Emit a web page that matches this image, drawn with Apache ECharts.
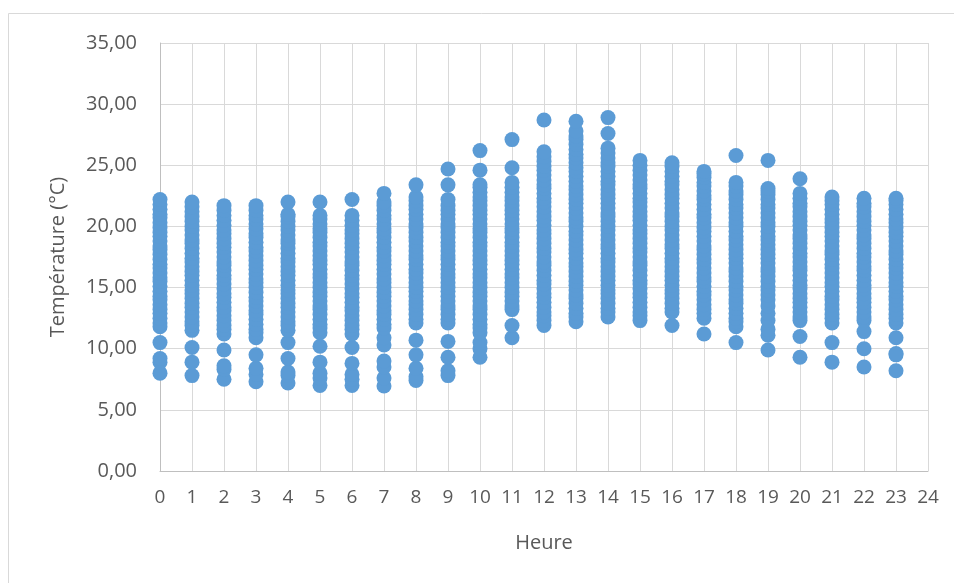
<!DOCTYPE html>
<html>
<head>
<meta charset="utf-8">
<script src="https://cdn.jsdelivr.net/npm/echarts@6/dist/echarts.min.js"></script>
<style>html,body{margin:0;padding:0;background:#fff}#c{width:954px;height:583px}</style>
</head>
<body>
<div id="c"></div>
<script>
const xTicks = [0, 24, 1];
const yTicks = [0, 35, 5];
const h0 = [8.0, 8.9, 9.2, 10.5, 11.8, 12.1, 12.5, 12.9, 13.2, 13.6, 14.0, 14.3, 14.7, 15.1, 15.5, 15.8, 16.2, 16.6, 16.9, 17.3, 17.7, 18.1, 18.4, 18.8, 19.2, 19.5, 19.9, 20.3, 20.7, 21.0, 21.4, 21.8, 22.2];
const h1 = [7.8, 8.9, 10.1, 11.5, 11.9, 12.2, 12.6, 13.0, 13.4, 13.7, 14.1, 14.5, 14.8, 15.2, 15.6, 16.0, 16.3, 16.7, 17.1, 17.4, 17.8, 18.2, 18.6, 18.9, 19.3, 19.7, 20.0, 20.4, 20.8, 21.2, 21.6, 22.0];
const h2 = [7.5, 8.3, 8.6, 9.9, 11.2, 11.6, 11.9, 12.3, 12.7, 13.1, 13.4, 13.8, 14.2, 14.5, 14.9, 15.3, 15.7, 16.0, 16.4, 16.8, 17.1, 17.5, 17.9, 18.3, 18.6, 19.0, 19.4, 19.7, 20.1, 20.5, 20.9, 21.3, 21.7];
const h3 = [7.3, 7.9, 8.4, 9.5, 10.9, 11.3, 11.6, 12.0, 12.4, 12.8, 13.1, 13.5, 13.9, 14.2, 14.6, 15.0, 15.4, 15.7, 16.1, 16.5, 16.8, 17.2, 17.6, 18.0, 18.3, 18.7, 19.1, 19.4, 19.8, 20.2, 20.6, 20.9, 21.3, 21.7];
const h4 = [7.2, 7.8, 8.1, 9.2, 10.5, 11.5, 11.9, 12.2, 12.6, 13.0, 13.4, 13.7, 14.1, 14.5, 14.8, 15.2, 15.6, 16.0, 16.3, 16.7, 17.1, 17.4, 17.8, 18.2, 18.6, 18.9, 19.3, 19.7, 20.0, 20.4, 20.8, 21.0, 22.0];
const h5 = [7.0, 7.6, 8.0, 8.9, 10.2, 11.3, 11.7, 12.0, 12.4, 12.8, 13.2, 13.5, 13.9, 14.3, 14.6, 15.0, 15.4, 15.8, 16.1, 16.5, 16.9, 17.2, 17.6, 18.0, 18.4, 18.7, 19.1, 19.5, 19.8, 20.2, 20.6, 20.9, 22.0];
const h6 = [7.0, 7.5, 7.9, 8.8, 10.1, 11.2, 11.6, 11.9, 12.3, 12.7, 13.1, 13.4, 13.8, 14.2, 14.5, 14.9, 15.3, 15.7, 16.0, 16.4, 16.8, 17.1, 17.5, 17.9, 18.3, 18.6, 19.0, 19.4, 19.7, 20.1, 20.5, 20.9, 22.2];
const h7 = [6.95, 7.6, 8.5, 9.0, 10.3, 10.9, 11.7, 12.0, 12.4, 12.8, 13.1, 13.5, 13.9, 14.3, 14.6, 15.0, 15.4, 15.7, 16.1, 16.5, 16.9, 17.2, 17.6, 18.0, 18.3, 18.7, 19.1, 19.5, 19.8, 20.2, 20.6, 20.9, 21.3, 21.7, 22.0, 22.7];
const h8 = [7.4, 7.7, 8.4, 9.5, 10.7, 12.1, 12.4, 12.8, 13.2, 13.6, 13.9, 14.3, 14.7, 15.0, 15.4, 15.8, 16.2, 16.5, 16.9, 17.3, 17.6, 18.0, 18.4, 18.8, 19.1, 19.5, 19.9, 20.2, 20.6, 21.0, 21.4, 21.7, 22.1, 22.4, 23.4];
const h9 = [7.8, 8.2, 9.3, 10.6, 12.1, 12.4, 12.8, 13.2, 13.5, 13.9, 14.3, 14.7, 15.0, 15.4, 15.8, 16.1, 16.5, 16.9, 17.3, 17.6, 18.0, 18.4, 18.7, 19.1, 19.5, 19.9, 20.2, 20.6, 21.0, 21.3, 21.7, 22.2, 23.4, 24.7];
const h10 = [9.3, 10.0, 10.5, 11.3, 11.7, 12.0, 12.4, 12.8, 13.2, 13.5, 13.9, 14.3, 14.6, 15.0, 15.4, 15.8, 16.1, 16.5, 16.9, 17.2, 17.6, 18.0, 18.4, 18.7, 19.1, 19.5, 19.8, 20.2, 20.6, 21.0, 21.3, 21.7, 22.1, 22.4, 22.8, 23.2, 23.4, 24.6, 26.2];
const h11 = [10.9, 11.9, 13.2, 13.5, 13.9, 14.3, 14.6, 15.0, 15.4, 15.8, 16.1, 16.5, 16.9, 17.2, 17.6, 18.0, 18.4, 18.7, 19.1, 19.5, 19.8, 20.2, 20.6, 21.0, 21.3, 21.7, 22.1, 22.4, 22.8, 23.2, 23.6, 24.8, 27.1];
const h12 = [11.9, 12.3, 12.7, 13.0, 13.4, 13.8, 14.2, 14.5, 14.9, 15.3, 15.6, 16.0, 16.4, 16.8, 17.1, 17.5, 17.9, 18.2, 18.6, 19.0, 19.4, 19.7, 20.1, 20.5, 20.8, 21.2, 21.6, 22.0, 22.3, 22.7, 23.1, 23.4, 23.8, 24.2, 24.6, 24.9, 25.3, 25.7, 26.1, 28.7];
const h13 = [12.2, 12.6, 12.9, 13.3, 13.7, 14.1, 14.4, 14.8, 15.2, 15.5, 15.9, 16.3, 16.7, 17.0, 17.4, 17.8, 18.1, 18.5, 18.9, 19.3, 19.6, 20.0, 20.4, 20.7, 21.1, 21.5, 21.9, 22.2, 22.6, 23.0, 23.3, 23.7, 24.1, 24.5, 24.8, 25.2, 25.6, 25.9, 26.3, 26.7, 27.1, 27.4, 27.8, 28.6];
const h14 = [12.6, 13.0, 13.3, 13.7, 14.1, 14.5, 14.8, 15.2, 15.6, 15.9, 16.3, 16.7, 17.1, 17.4, 17.8, 18.2, 18.5, 18.9, 19.3, 19.7, 20.0, 20.4, 20.8, 21.1, 21.5, 21.9, 22.3, 22.6, 23.0, 23.4, 23.7, 24.1, 24.5, 24.9, 25.2, 25.6, 26.0, 26.4, 27.6, 28.9];
const h15 = [12.3, 12.7, 13.0, 13.4, 13.8, 14.2, 14.5, 14.9, 15.3, 15.6, 16.0, 16.4, 16.8, 17.1, 17.5, 17.9, 18.2, 18.6, 19.0, 19.4, 19.7, 20.1, 20.5, 20.8, 21.2, 21.6, 22.0, 22.3, 22.7, 23.1, 23.4, 23.8, 24.2, 24.6, 25.0, 25.4];
const h16 = [11.9, 13.0, 13.3, 13.7, 14.1, 14.5, 14.8, 15.2, 15.6, 15.9, 16.3, 16.7, 17.1, 17.4, 17.8, 18.2, 18.5, 18.9, 19.3, 19.7, 20.0, 20.4, 20.8, 21.1, 21.5, 21.9, 22.3, 22.6, 23.0, 23.4, 23.7, 24.1, 24.5, 24.9, 25.2];
const h17 = [11.2, 12.5, 12.9, 13.2, 13.6, 14.0, 14.4, 14.7, 15.1, 15.5, 15.8, 16.2, 16.6, 17.0, 17.3, 17.7, 18.1, 18.4, 18.8, 19.2, 19.6, 19.9, 20.3, 20.7, 21.0, 21.4, 21.8, 22.2, 22.5, 22.9, 23.3, 23.6, 24.0, 24.3, 24.5];
const h18 = [10.5, 11.8, 12.2, 12.5, 12.9, 13.3, 13.7, 14.0, 14.4, 14.8, 15.1, 15.5, 15.9, 16.3, 16.6, 17.0, 17.4, 17.7, 18.1, 18.5, 18.9, 19.2, 19.6, 20.0, 20.3, 20.7, 21.1, 21.5, 21.8, 22.2, 22.6, 22.9, 23.3, 23.6, 25.8];
const h19 = [9.9, 11.1, 11.6, 12.3, 12.9, 13.5, 14.0, 14.4, 14.8, 15.1, 15.5, 15.9, 16.3, 16.6, 17.0, 17.4, 17.7, 18.1, 18.5, 18.9, 19.2, 19.6, 20.0, 20.3, 20.7, 21.1, 21.5, 21.8, 22.2, 22.6, 22.9, 23.1, 25.4];
const h20 = [9.3, 11.0, 12.3, 12.6, 13.0, 13.4, 13.8, 14.1, 14.5, 14.9, 15.2, 15.6, 16.0, 16.4, 16.7, 17.1, 17.5, 17.8, 18.2, 18.6, 19.0, 19.3, 19.7, 20.1, 20.4, 20.8, 21.2, 21.6, 21.9, 22.3, 22.7, 23.9];
const h21 = [8.9, 10.5, 12.1, 12.5, 12.8, 13.2, 13.6, 14.0, 14.3, 14.7, 15.1, 15.4, 15.8, 16.2, 16.6, 16.9, 17.3, 17.7, 18.0, 18.4, 18.8, 19.2, 19.5, 19.9, 20.3, 20.6, 21.0, 21.4, 21.8, 22.1, 22.4];
const h22 = [8.5, 10.0, 11.4, 12.3, 12.6, 13.0, 13.4, 13.8, 14.1, 14.5, 14.9, 15.2, 15.6, 16.0, 16.4, 16.7, 17.1, 17.5, 17.8, 18.2, 18.6, 19.0, 19.3, 19.7, 20.1, 20.4, 20.8, 21.2, 21.6, 21.9, 22.3];
const h23 = [8.2, 9.5, 9.6, 10.9, 12.1, 12.5, 12.8, 13.2, 13.6, 14.0, 14.3, 14.7, 15.1, 15.4, 15.8, 16.2, 16.6, 16.9, 17.3, 17.7, 18.0, 18.4, 18.8, 19.2, 19.5, 19.9, 20.3, 20.6, 21.0, 21.4, 21.8, 22.1, 22.3];
const hourly = [h0,h1,h2,h3,h4,h5,h6,h7,h8,h9,h10,h11,h12,h13,h14,h15,h16,h17,h18,h19,h20,h21,h22,h23];

const points = [];
hourly.forEach((arr, hr) => arr.forEach(v => points.push([hr, v])));

const font = '"Open Sans", "Liberation Sans", sans-serif';
const chart = echarts.init(document.getElementById('c'), null, {renderer: 'canvas'});
chart.setOption({
  animation: false,
  backgroundColor: '#ffffff',
  graphic: [{
    type: 'rect', shape: {x: 8.5, y: 13.5, width: 1000, height: 1000},
    style: {fill: 'none', stroke: '#d9d9d9', lineWidth: 1}, silent: true, z: -1
  }],
  grid: {left: 160, right: 26, top: 43, bottom: 112, containLabel: false},
  xAxis: {
    type: 'value', min: xTicks[0], max: xTicks[1], interval: xTicks[2],
    name: 'Heure', nameLocation: 'middle', nameGap: 62,
    nameTextStyle: {color: '#595959', fontSize: 20, fontFamily: font},
    axisLine: {show: true, lineStyle: {color: '#bfbfbf', width: 1}},
    axisTick: {show: false},
    axisLabel: {color: '#595959', fontSize: 19, fontFamily: font, margin: 17},
    splitLine: {show: true, lineStyle: {color: '#d9d9d9', width: 1}}
  },
  yAxis: {
    type: 'value', min: yTicks[0], max: yTicks[1], interval: yTicks[2],
    name: 'Température (°C)', nameLocation: 'middle', nameGap: 92,
    nameTextStyle: {color: '#595959', fontSize: 20, fontFamily: font},
    axisLine: {show: true, lineStyle: {color: '#bfbfbf', width: 1}},
    axisTick: {show: false},
    axisLabel: {color: '#595959', fontSize: 20, fontFamily: font, margin: 23,
      formatter: v => v.toFixed(2).replace('.', ',')},
    splitLine: {show: true, lineStyle: {color: '#d9d9d9', width: 1}}
  },
  series: [{
    type: 'scatter', data: points, symbol: 'circle', symbolSize: 15,
    itemStyle: {color: '#5b9bd5', opacity: 1}
  }]
});
</script>
</body>
</html>
